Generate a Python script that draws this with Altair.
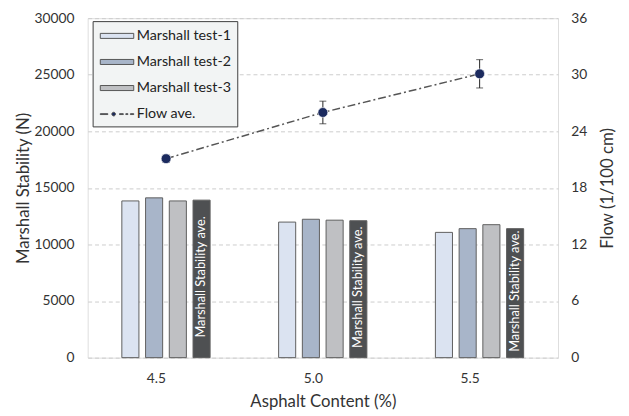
import altair as alt
import pandas as pd

content = ["4.5", "5.0", "5.5"]
series = ["Marshall test-1", "Marshall test-2", "Marshall test-3", "Marshall Stability ave."]
test1 = [13850, 11980, 11070]
test2 = [14120, 12230, 11400]
test3 = [13850, 12150, 11750]
ave = [13920, 12100, 11400]
flow = [21.1, 26.0, 30.1]
flow_err = [0.4, 1.2, 1.5]

bar_colors = ["#dbe3f1", "#a8b5c9", "#bfc0c3", "#4e5052"]
legend_names = ["Marshall test-1", "Marshall test-2", "Marshall test-3", "Flow ave."]
legend_colors = ["#dbe3f1", "#a8b5c9", "#bfc0c3", "#1b2a5e"]
rect_path = "M-2,-0.3H2V0.3H-2Z"
flow_path = ("M-2,-0.05H-1.1V0.05H-2Z "
             "M-0.62,0A0.22,0.22 0 1,0 -0.18,0A0.22,0.22 0 1,0 -0.62,0Z "
             "M0.3,-0.05H0.75V0.05H0.3Z M1.05,-0.05H1.3V0.05H1.05Z M1.6,-0.05H2V0.05H1.6Z")
legend_shapes = [rect_path, rect_path, rect_path, flow_path]

FONT = "Lato"

rows = []
for i, c in enumerate(content):
    for s, vals in zip(series, [test1, test2, test3, ave]):
        rows.append({"Content": c, "Series": s, "Value": vals[i]})
df_bars = pd.DataFrame(rows)
df_flow = pd.DataFrame({"Content": content, "Flow": flow,
                        "Lo": [f - e for f, e in zip(flow, flow_err)],
                        "Hi": [f + e for f, e in zip(flow, flow_err)]})
df_leg = pd.DataFrame({"Entry": legend_names})

x_enc = alt.X("Content:N", scale=alt.Scale(paddingInner=0, paddingOuter=0),
              axis=alt.Axis(title="Asphalt Content (%)", labelAngle=0, ticks=False,
                            domain=False, labelPadding=21, titlePadding=9,
                            labelFontSize=14, titleFontSize=17, labelColor="#333",
                            titleColor="#333", labelFont=FONT, titleFont=FONT,
                            titleFontWeight="normal"))
xoff = alt.XOffset("Series:N", sort=series,
                   scale=alt.Scale(domain=series, range=[34.7, 124.4],
                                   paddingInner=0.28, paddingOuter=0))

y_left = alt.Y("Value:Q",
               scale=alt.Scale(domain=[0, 30000]),
               axis=alt.Axis(title="Marshall Stability (N)", values=list(range(0, 30001, 5000)),
                             ticks=False, domain=False, grid=True, gridDash=[4, 3],
                             gridColor="#cccccc", labelPadding=14, titlePadding=2,
                             labelFontSize=14, titleFontSize=17, labelColor="#333",
                             titleColor="#333", labelFont=FONT, titleFont=FONT,
                             titleFontWeight="normal", format="d"))

shadow = alt.Chart(df_bars).mark_bar(color="#9a9a9a", opacity=0.3, xOffset=2.5).encode(
    x=alt.X("Content:N"), xOffset=xoff, y=alt.Y("Value:Q"))

bars = alt.Chart(df_bars).mark_bar(stroke="#5f5f5f", strokeWidth=1).encode(
    x=x_enc, xOffset=xoff, y=y_left,
    fill=alt.Fill("Series:N", scale=alt.Scale(domain=series, range=bar_colors), legend=None),
)

txt = alt.Chart(df_bars).transform_filter(
    alt.datum.Series == "Marshall Stability ave."
).transform_calculate(Mid="datum.Value / 2").mark_text(
    angle=270, align="center", baseline="middle", dx=2, color="white",
    fontSize=13, font=FONT).encode(
    x=alt.X("Content:N"), xOffset=xoff, y=alt.Y("Mid:Q"), text="Series:N")

legend_layer = alt.Chart(df_leg).mark_point(filled=True, clip=True, opacity=1,
                                            stroke="#555555", strokeWidth=1).encode(
    x=alt.datum("4.5"), y=alt.datum(-20000),
    color=alt.Color("Entry:N", sort=legend_names,
                    scale=alt.Scale(domain=legend_names, range=legend_colors),
                    legend=alt.Legend(title=None, orient="none", legendX=5, legendY=3,
                                      fillColor="#f2f4f4", strokeColor="#3c3c3c",
                                      padding=6, rowPadding=10.5, labelFontSize=14.5,
                                      labelFont=FONT, labelColor="#222",
                                      symbolSize=289, symbolOpacity=1, symbolOffset=9.8,
                                      symbolStrokeColor="#555555", symbolStrokeWidth=1,
                                      labelOffset=11)),
    shape=alt.Shape("Entry:N", sort=legend_names,
                    scale=alt.Scale(domain=legend_names, range=legend_shapes)),
)

left = alt.layer(shadow, bars, txt, legend_layer)

y_right_axis = alt.Axis(title="Flow (1/100 cm)", orient="right", titleAngle=270,
                        titleBaseline="top",
                        values=list(range(0, 37, 6)), ticks=False, domain=False, grid=False,
                        labelPadding=13, titlePadding=13, labelFontSize=14, titleFontSize=17,
                        labelColor="#333", titleColor="#333", labelFont=FONT, titleFont=FONT,
                        titleFontWeight="normal")
y_right_scale = alt.Scale(domain=[0, 36])

line = alt.Chart(df_flow).mark_line(color="#555555", strokeWidth=1.5,
                                    strokeDash=[8, 3, 2, 3]).encode(
    x=alt.X("Content:N"), y=alt.Y("Flow:Q", scale=y_right_scale, axis=y_right_axis))
err = alt.Chart(df_flow).mark_rule(color="#222", strokeWidth=1).encode(
    x="Content:N", y=alt.Y("Lo:Q", scale=y_right_scale), y2="Hi:Q")
cap_hi = alt.Chart(df_flow).mark_tick(color="#222", thickness=1, size=7).encode(
    x="Content:N", y=alt.Y("Hi:Q", scale=y_right_scale))
cap_lo = alt.Chart(df_flow).mark_tick(color="#222", thickness=1, size=7).encode(
    x="Content:N", y=alt.Y("Lo:Q", scale=y_right_scale))
pts = alt.Chart(df_flow).mark_circle(color="#1b2a5e", opacity=1, size=100,
                                     stroke="white", strokeWidth=0.6).encode(
    x="Content:N", y=alt.Y("Flow:Q", scale=y_right_scale))

right = alt.layer(line, err, cap_hi, cap_lo, pts)

chart = alt.layer(left, right).resolve_scale(y="independent").properties(
    width=478, height=345,
    padding={"left": 6, "top": 0, "right": 5, "bottom": 5},
).configure_view(stroke="#333333", strokeWidth=1).configure(background="white")

chart.save("out.html", embed_options={"renderer": "svg", "actions": False})
